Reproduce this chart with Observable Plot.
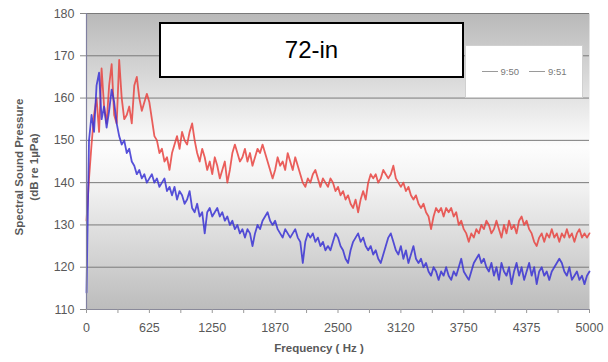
<!DOCTYPE html>
<html><head><meta charset="utf-8">
<script src="https://cdn.jsdelivr.net/npm/d3@7"></script>
<script src="https://cdn.jsdelivr.net/npm/@observablehq/plot@0.6"></script>
<style>
body{margin:0;background:#fff;font-family:Arial,"Liberation Sans",sans-serif}
#wrap{position:relative;width:608px;height:362px;overflow:hidden}
#wrap svg{position:absolute;left:0;top:0}
.ylab{position:absolute;left:27px;top:167px;transform:translate(-50%,-50%) rotate(-90deg);font-weight:bold;font-size:11.5px;color:#595959;text-align:center;line-height:15px;white-space:nowrap}
.xlab{position:absolute;left:319px;top:348px;transform:translate(-50%,-50%);font-weight:bold;font-size:11.5px;color:#595959;white-space:nowrap}
.title{position:absolute;left:159px;top:22px;width:301px;height:52px;border:2px solid #000;background:#fff;font-size:24px;color:#000;display:flex;align-items:center;justify-content:center}
.legend{position:absolute;left:465px;top:45px;width:116px;height:51px;background:#fff;border:1px solid #d0d0d0;font-size:9.5px;color:#7a7a7a;display:flex;align-items:center;justify-content:center;gap:10px}
.legend span.it{display:flex;align-items:center;gap:3px}
.legend i{display:inline-block;width:16px;height:0;border-top:1px solid #9a9a9a}
</style></head><body><div id="wrap"></div>
<script>
const frequency = [
0,25,50,75,100,125,150,175,200,225,250,275,300,325,350,375,400,425,450,475,
500,525,550,575,600,625,650,675,700,725,750,775,800,825,850,875,900,925,950,975,
1000,1025,1050,1075,1100,1125,1150,1175,1200,1225,1250,1275,1300,1325,1350,1375,1400,1425,1450,1475,
1500,1525,1550,1575,1600,1625,1650,1675,1700,1725,1750,1775,1800,1825,1850,1875,1900,1925,1950,1975,
2000,2025,2050,2075,2100,2125,2150,2175,2200,2225,2250,2275,2300,2325,2350,2375,2400,2425,2450,2475,
2500,2525,2550,2575,2600,2625,2650,2675,2700,2725,2750,2775,2800,2825,2850,2875,2900,2925,2950,2975,
3000,3025,3050,3075,3100,3125,3150,3175,3200,3225,3250,3275,3300,3325,3350,3375,3400,3425,3450,3475,
3500,3525,3550,3575,3600,3625,3650,3675,3700,3725,3750,3775,3800,3825,3850,3875,3900,3925,3950,3975,
4000,4025,4050,4075,4100,4125,4150,4175,4200,4225,4250,4275,4300,4325,4350,4375,4400,4425,4450,4475,
4500,4525,4550,4575,4600,4625,4650,4675,4700,4725,4750,4775,4800,4825,4850,4875,4900,4925,4950,4975,
5000];

// 9:50 (blue)
const spl950 = [
114,150,156,152,163,166,155,158,153,157,162,159,154,151,149,150,147,148,145,144,
142,143,141,142,140,141,142,140,141,139,140,141,138,139,137,139,136,138,137,135,
136,138,134,133,135,132,133,128,133,134,132,133,134,132,133,131,132,130,131,129,
130,128,129,127,129,128,125,128,130,129,131,132,133,131,130,131,129,128,127,129,
128,127,128,129,127,126,121,126,128,127,128,126,127,125,126,124,125,124,126,128,
127,125,124,122,121,124,126,127,128,126,127,125,124,125,123,124,122,121,123,125,
127,128,126,124,123,125,122,124,121,123,125,122,121,122,120,121,119,118,120,119,
117,119,118,120,118,117,119,118,120,122,119,118,117,119,121,122,123,121,122,120,
119,121,118,120,117,121,119,118,120,116,119,121,118,120,117,119,121,118,120,116,
119,120,118,119,117,119,120,121,122,121,119,118,120,117,118,119,117,118,116,118,
119];

// 9:51 (red)
const spl951 = [
131,141,149,156,160,152,167,158,154,163,168,156,154,169,160,155,156,158,154,163,
165,160,157,159,161,159,155,151,150,147,148,145,146,143,147,149,151,148,152,150,
149,152,154,150,147,145,148,146,143,145,142,146,144,141,143,145,140,143,147,149,
147,145,146,148,145,147,144,146,148,147,149,147,145,143,141,143,146,144,145,143,
147,145,143,146,144,142,140,139,141,140,142,143,141,139,141,140,139,141,140,138,
139,137,138,136,137,135,134,136,133,136,138,136,140,142,141,142,140,141,143,142,
141,142,144,141,140,139,140,138,139,137,136,137,135,134,135,133,132,129,132,134,
133,134,132,134,133,134,132,133,130,131,129,128,126,128,127,129,128,130,129,131,
130,128,129,131,129,127,130,128,131,129,130,128,131,132,130,131,129,128,126,125,
127,128,126,128,127,129,127,128,126,128,127,129,127,128,126,128,129,127,128,127,
128];

const seriesNames = ["9:50", "9:51"];
const seriesColors = ["#3a33d4", "#e8433f"];
const xTicks = [0,625,1250,1875,2500,3125,3750,4375,5000];
const xTickLabels = ["0","625","1250","1870","2500","3120","3750","4375","5000"];
const xMinorTicks = [312.5,937.5,1562.5,2187.5,2812.5,3437.5,4062.5,4687.5];
const yTicks = [110,120,130,140,150,160,170,180];
const titleText = "72-in";
const yTitle = ["Spectral Sound Pressure", "(dB re 1µPa)"];
const xTitle = "Frequency ( Hz )";

const rows = [];
frequency.forEach((f, i) => {
  rows.push({f, v: spl950[i], s: seriesNames[0]});
  rows.push({f, v: spl951[i], s: seriesNames[1]});
});
const labelMap = new Map(xTicks.map((t, i) => [t, xTickLabels[i]]));
const allXTicks = [...xTicks, ...xMinorTicks].sort((a, b) => a - b);

const plot = Plot.plot({
  width: 608, height: 362,
  marginLeft: 86, marginRight: 19, marginTop: 13, marginBottom: 53,
  x: {domain: [0, 5000]},
  y: {domain: [110, 180]},
  color: {domain: seriesNames, range: seriesColors},
  style: {fontFamily: "Arial, 'Liberation Sans', sans-serif", fontSize: "12.5px", color: "#595959", background: "transparent", overflow: "visible"},
  marks: [
    Plot.frame({fill: "url(#bggrad)", stroke: null}),
    Plot.gridY(yTicks, {stroke: "#7a7a7a", strokeOpacity: 1, strokeWidth: 1}),
    Plot.line(rows.filter(d => d.s === seriesNames[1]), {x: "f", y: "v", stroke: "s", strokeWidth: 1.8, strokeOpacity: 0.85}),
    Plot.line(rows.filter(d => d.s === seriesNames[0]), {x: "f", y: "v", stroke: "s", strokeWidth: 1.8, strokeOpacity: 0.85}),
    Plot.ruleX([0], {stroke: "#8080a0", strokeWidth: 1.2}),
    Plot.ruleY([110], {stroke: "#8a8a9a", strokeWidth: 1.2}),
    Plot.axisY(yTicks, {tickSize: 6, tickPadding: 6, label: null, stroke: "#888"}),
    Plot.axisX(allXTicks, {tickSize: 4, tickPadding: 10, label: null, stroke: "#999", tickFormat: d => labelMap.get(d) ?? ""})
  ]
});

const defs = document.createElementNS("http://www.w3.org/2000/svg", "defs");
defs.innerHTML = `<linearGradient id="bggrad" x1="0" y1="0" x2="0" y2="1">
  <stop offset="0" stop-color="#b9b9b9"/>
  <stop offset="0.2" stop-color="#d6d6d6"/>
  <stop offset="0.45" stop-color="#fdfdfd"/>
  <stop offset="0.6" stop-color="#f0f0f0"/>
  <stop offset="1" stop-color="#bcbcbc"/>
</linearGradient>`;
plot.insertBefore(defs, plot.firstChild);

const wrap = document.getElementById("wrap");
wrap.appendChild(plot);

const yl = document.createElement("div");
yl.className = "ylab";
yl.innerHTML = yTitle.join("<br>");
wrap.appendChild(yl);

const xl = document.createElement("div");
xl.className = "xlab";
xl.textContent = xTitle;
wrap.appendChild(xl);

const lg = document.createElement("div");
lg.className = "legend";
seriesNames.forEach(n => {
  const s = document.createElement("span");
  s.className = "it";
  s.innerHTML = `<i></i>${n}`;
  lg.appendChild(s);
});
wrap.appendChild(lg);

const tt = document.createElement("div");
tt.className = "title";
tt.textContent = titleText;
wrap.appendChild(tt);
</script>
</body></html>
